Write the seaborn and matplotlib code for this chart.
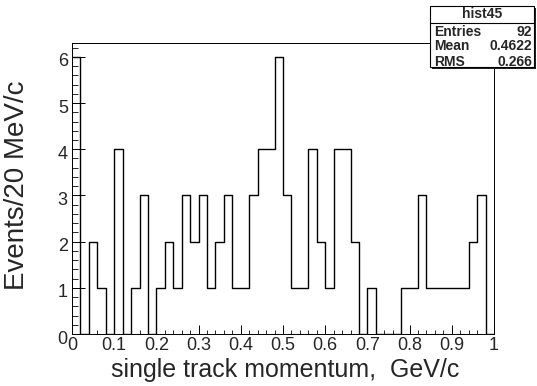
import numpy as np
import pandas as pd
import matplotlib
matplotlib.use("Agg")
import matplotlib.pyplot as plt
from matplotlib.ticker import MultipleLocator, FixedLocator
from matplotlib.patches import Rectangle
from matplotlib.lines import Line2D
from matplotlib.transforms import ScaledTranslation
import seaborn as sns

# 50 bins of 20 MeV/c between 0 and 1 GeV/c
bin_lo = 0.0
bin_hi = 1.0
n_bins = 50
counts = [6, 0, 2, 1, 0, 4, 0, 1, 3, 0,
          1, 2, 1, 3, 2, 3, 1, 2, 3, 1,
          1, 3, 4, 4, 6, 3, 1, 1, 4, 2,
          1, 4, 4, 2, 0, 1, 0, 0, 0, 1,
          1, 3, 1, 1, 1, 1, 1, 2, 3, 0]
x_ticks = [0, 0.1, 0.2, 0.3, 0.4, 0.5, 0.6, 0.7, 0.8, 0.9, 1]
x_tick_labels = ["0", "0.1", "0.2", "0.3", "0.4", "0.5", "0.6", "0.7", "0.8", "0.9", "1"]
y_ticks = [0, 1, 2, 3, 4, 5, 6]
stat_names = ["Entries", "Mean", "RMS"]
stat_values = ["92", "0.4622", "0.266"]
hist_name = "hist45"

edges = np.linspace(bin_lo, bin_hi, n_bins + 1)
centers = 0.5 * (edges[:-1] + edges[1:])
df = pd.DataFrame({"p": centers, "n": counts})

sns.set_style("ticks")
plt.rcParams["font.family"] = ["Liberation Sans", "DejaVu Sans"]

W, H = 537, 386
fig = plt.figure(figsize=(W / 100, H / 100), dpi=100)
L, R, T, B = 72, 494, 43, 334
ax = fig.add_axes([L / W, 1 - B / H, (R - L) / W, (B - T) / H])

sns.histplot(data=df, x="p", weights="n", bins=n_bins, binrange=(bin_lo, bin_hi),
             element="step", fill=False, color="black", linewidth=1.0, ax=ax)

ax.set_xlim(bin_lo, bin_hi)
ax.set_ylim(0, 6.3)

# frame: black outline with a thin red inner edge
for s in ax.spines.values():
    s.set_color("black")
    s.set_linewidth(0.7)
    s.set_zorder(5)
ax.add_patch(Rectangle((0, 0), 1, 1, transform=ax.transAxes, fill=False,
                       edgecolor="#d42020", linewidth=0.7, zorder=4))

ax.xaxis.set_major_locator(FixedLocator(x_ticks))
ax.set_xticklabels(x_tick_labels)
ax.xaxis.set_minor_locator(MultipleLocator(0.02))
ax.yaxis.set_major_locator(FixedLocator(y_ticks))
ax.yaxis.set_minor_locator(MultipleLocator(0.2))

ax.tick_params(axis="x", which="major", direction="in", length=6.5, width=0.7,
               labelsize=13, pad=2, top=False, color="black")
ax.tick_params(axis="x", which="minor", direction="in", length=3.2, width=0.7, top=False)
ax.tick_params(axis="y", which="major", direction="in", length=9, width=0.7,
               labelsize=13, pad=3, right=False, color="black")
ax.tick_params(axis="y", which="minor", direction="in", length=4.5, width=0.7, right=False)

shift = ScaledTranslation(0, -3 / 100, fig.dpi_scale_trans)
for lab in ax.get_yticklabels():
    lab.set_transform(lab.get_transform() + shift)

ax.set_xlabel("single track momentum,  GeV/c", fontsize=18)
ax.xaxis.label.set_va("baseline")
ax.xaxis.set_label_coords((285 - L) / (R - L), (B - 377) / (B - T))
ax.set_ylabel("Events/20 MeV/c", fontsize=20)
ax.yaxis.label.set_va("baseline")
ax.yaxis.set_label_coords((24 - L) / (R - L), (B - 185) / (B - T))

# statistics box
bx0, bx1, by0, by1 = 430, 534, 6, 67
fig.patches.append(Rectangle((bx0 / W + 2 / W, 1 - (by1 + 2) / H), (bx1 - bx0) / W, (by1 - by0) / H,
                             transform=fig.transFigure, facecolor="#202020", edgecolor="none", zorder=9))
fig.patches.append(Rectangle((bx0 / W, 1 - by1 / H), (bx1 - bx0) / W, (by1 - by0) / H,
                             transform=fig.transFigure, facecolor="white", edgecolor="black",
                             linewidth=0.8, zorder=10))
fig.lines.append(Line2D([bx0 / W, bx1 / W], [1 - 22.5 / H, 1 - 22.5 / H], transform=fig.transFigure,
                        color="black", linewidth=0.8, zorder=11))
fig.text((bx0 + bx1) / 2 / W, 1 - 14.5 / H, hist_name, ha="center", va="center",
         fontsize=10, fontweight="bold", zorder=12)
for i, (nm, val) in enumerate(zip(stat_names, stat_values)):
    yy = 1 - (31.5 + 15 * i) / H
    fig.text((bx0 + 4) / W, yy, nm, ha="left", va="center", fontsize=10, fontweight="bold", zorder=12)
    fig.text((bx1 - 2) / W, yy, val, ha="right", va="center", fontsize=10, fontweight="bold", zorder=12)

fig.savefig("out.png", dpi=100)
